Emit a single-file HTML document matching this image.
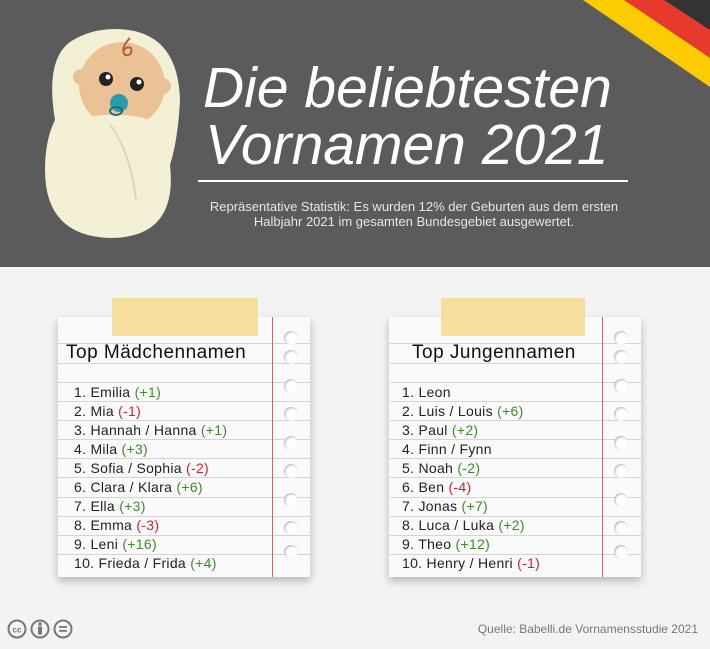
<!DOCTYPE html>
<html><head><meta charset="utf-8"><style>
*{margin:0;padding:0;box-sizing:border-box}
body{width:710px;height:649px;overflow:hidden;position:relative;background:#f3f3f3;font-family:"Liberation Sans",sans-serif}
.hdr{position:absolute;left:0;top:0;width:710px;height:267px;background:#5b5b5b;overflow:hidden}
.t{position:absolute;color:#fff;font-style:italic;font-size:57px;left:203px;line-height:60px;white-space:nowrap}
.sub{position:absolute;left:198px;top:199px;width:432px;text-align:center;color:#e6e6e6;font-size:13px;line-height:15px}
.paper{position:absolute;top:317px;width:252px;height:260px;background:#fafafa;box-shadow:0 4px 8px rgba(0,0,0,.25);overflow:hidden}
.ln{position:absolute;left:0;width:100%;height:1px;background:#d4d4d4}
.red{position:absolute;top:0;bottom:0;width:1px;background:#e06060}
.tape{position:absolute;top:298px;height:38px;background:#f6dc98;opacity:.92}
.row{position:absolute;font-size:14px;color:#222;white-space:nowrap;letter-spacing:.3px}
.g{color:#3d8a2a}.r{color:#d02030}
.h{position:absolute;font-size:19px;color:#111;letter-spacing:.5px}
.hole{position:absolute;width:14px;height:14px;border-radius:50%;background:#fff;box-shadow:inset 1px 1px 2px rgba(0,0,0,.3)}
</style></head><body>
<div class="hdr">
<svg width="710" height="267" style="position:absolute;left:0;top:0">
<polygon points="583,0 626,0 710,57 710,87" fill="#fccb00"/>
<polygon points="624,0 666,0 710,28 710,58" fill="#e63a2e"/>
<polygon points="664,0 710,0 710,30" fill="#333"/>
<path d="M115 29 Q178 29 180 100 Q178 140 170 165 Q178 238 110 238 Q45 236 45 170 Q45 140 55 120 Q45 60 70 42 Q90 29 115 29Z" fill="#f3f0d6"/>
<circle cx="122" cy="85" r="43" fill="#ebc196"/>
<circle cx="81" cy="77" r="8" fill="#ebc196"/>
<circle cx="163" cy="86" r="8" fill="#ebc196"/>
<path d="M55 130 Q110 100 172 128 Q172 200 110 220 Q55 210 52 170Z" fill="#f3f0d6"/>
<path d="M110 125 Q130 150 136 200" stroke="#dcd9b0" stroke-width="2" fill="none"/>
<circle cx="106" cy="79" r="7" fill="#222"/><circle cx="108" cy="77" r="2.5" fill="#fff"/>
<circle cx="137" cy="84" r="7" fill="#222"/><circle cx="139" cy="82" r="2.5" fill="#fff"/>
<circle cx="119" cy="103" r="9" fill="#2a9cab"/>
<ellipse cx="116" cy="111" rx="6" ry="4" fill="none" stroke="#1c6d78" stroke-width="2"/>
<path d="M130 38 Q120 48 125 55 Q133 56 131 48 Q127 46 124 50" stroke="#b0623a" stroke-width="2" fill="none"/>
<rect x="198" y="180" width="430" height="2" fill="#fff"/>
</svg>
<div class="t" style="top:58px">Die beliebtesten</div>
<div class="t" style="top:115px;left:205px">Vornamen 2021</div>
<div class="sub">Repräsentative Statistik: Es wurden 12% der Geburten aus dem ersten Halbjahr 2021 im gesamten Bundesgebiet ausgewertet.</div>
</div>

<div class="paper" style="left:58px">
<div class="ln" style="top:26px"></div><div class="ln" style="top:46px"></div><div class="ln" style="top:65px"></div><div class="ln" style="top:84px"></div><div class="ln" style="top:103px"></div><div class="ln" style="top:122px"></div><div class="ln" style="top:141px"></div><div class="ln" style="top:160px"></div><div class="ln" style="top:180px"></div><div class="ln" style="top:199px"></div><div class="ln" style="top:218px"></div><div class="ln" style="top:237px"></div>
<div class="red" style="left:214px"></div>
<div class="hole" style="left:226px;top:14px"></div><div class="hole" style="left:226px;top:33px"></div><div class="hole" style="left:226px;top:62px"></div><div class="hole" style="left:226px;top:90px"></div><div class="hole" style="left:226px;top:119px"></div><div class="hole" style="left:226px;top:147px"></div><div class="hole" style="left:226px;top:176px"></div><div class="hole" style="left:226px;top:204px"></div><div class="hole" style="left:226px;top:228px"></div>
<div class="h" style="left:8px;top:25px">Top Mädchennamen</div>
<div class="row" style="left:16px;top:67px">1. Emilia <span class="g">(+1)</span></div>
<div class="row" style="left:16px;top:86px">2. Mia <span class="r">(-1)</span></div>
<div class="row" style="left:16px;top:105px">3. Hannah / Hanna <span class="g">(+1)</span></div>
<div class="row" style="left:16px;top:124px">4. Mila <span class="g">(+3)</span></div>
<div class="row" style="left:16px;top:143px">5. Sofia / Sophia <span class="r">(-2)</span></div>
<div class="row" style="left:16px;top:162px">6. Clara / Klara <span class="g">(+6)</span></div>
<div class="row" style="left:16px;top:181px">7. Ella <span class="g">(+3)</span></div>
<div class="row" style="left:16px;top:200px">8. Emma <span class="r">(-3)</span></div>
<div class="row" style="left:16px;top:219px">9. Leni <span class="g">(+16)</span></div>
<div class="row" style="left:16px;top:238px">10. Frieda / Frida <span class="g">(+4)</span></div>
</div>
<div class="tape" style="left:112px;width:146px"></div>

<div class="paper" style="left:389px">
<div class="ln" style="top:26px"></div><div class="ln" style="top:46px"></div><div class="ln" style="top:65px"></div><div class="ln" style="top:84px"></div><div class="ln" style="top:103px"></div><div class="ln" style="top:122px"></div><div class="ln" style="top:141px"></div><div class="ln" style="top:160px"></div><div class="ln" style="top:180px"></div><div class="ln" style="top:199px"></div><div class="ln" style="top:218px"></div><div class="ln" style="top:237px"></div>
<div class="red" style="left:213px"></div>
<div class="hole" style="left:225px;top:14px"></div><div class="hole" style="left:225px;top:33px"></div><div class="hole" style="left:225px;top:62px"></div><div class="hole" style="left:225px;top:90px"></div><div class="hole" style="left:225px;top:119px"></div><div class="hole" style="left:225px;top:147px"></div><div class="hole" style="left:225px;top:176px"></div><div class="hole" style="left:225px;top:204px"></div><div class="hole" style="left:225px;top:228px"></div>
<div class="h" style="left:23px;top:25px">Top Jungennamen</div>
<div class="row" style="left:13px;top:67px">1. Leon</div>
<div class="row" style="left:13px;top:86px">2. Luis / Louis <span class="g">(+6)</span></div>
<div class="row" style="left:13px;top:105px">3. Paul <span class="g">(+2)</span></div>
<div class="row" style="left:13px;top:124px">4. Finn / Fynn</div>
<div class="row" style="left:13px;top:143px">5. Noah <span class="g">(-2)</span></div>
<div class="row" style="left:13px;top:162px">6. Ben <span class="r">(-4)</span></div>
<div class="row" style="left:13px;top:181px">7. Jonas <span class="g">(+7)</span></div>
<div class="row" style="left:13px;top:200px">8. Luca / Luka <span class="g">(+2)</span></div>
<div class="row" style="left:13px;top:219px">9. Theo <span class="g">(+12)</span></div>
<div class="row" style="left:13px;top:238px">10. Henry / Henri <span class="r">(-1)</span></div>
</div>
<div class="tape" style="left:441px;width:144px"></div>

<svg width="80" height="24" style="position:absolute;left:6px;top:618px">
<g fill="none" stroke="#777" stroke-width="2"><circle cx="11" cy="11" r="8.5"/><circle cx="34" cy="11" r="8.5"/><circle cx="57" cy="11" r="8.5"/></g>
<text x="11" y="14.5" font-size="8" font-weight="bold" fill="#777" text-anchor="middle" font-family="Liberation Sans">cc</text>
<circle cx="34" cy="6" r="1.8" fill="#777"/><rect x="32" y="8.5" width="4" height="8" fill="#777"/>
<rect x="53" y="8" width="8" height="1.8" fill="#777"/><rect x="53" y="12" width="8" height="1.8" fill="#777"/>
</svg>
<div style="position:absolute;right:12px;top:622px;font-size:12px;color:#777">Quelle: Babelli.de Vornamensstudie 2021</div>
</body></html>
